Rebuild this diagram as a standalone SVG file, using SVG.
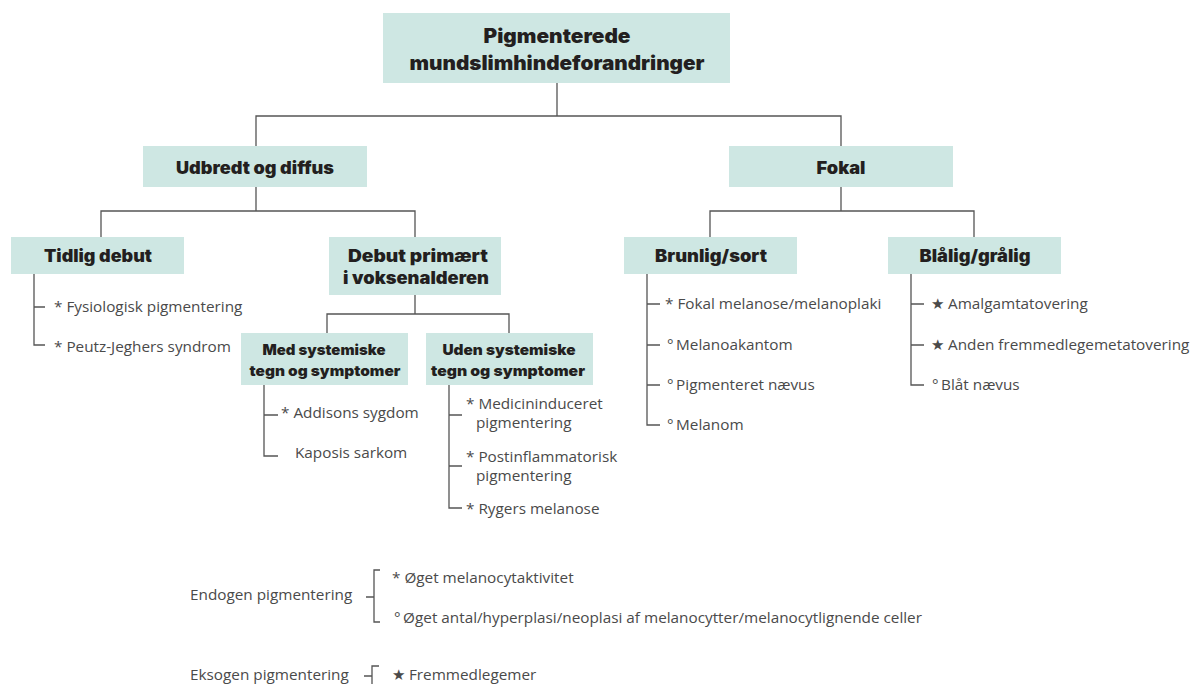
<svg xmlns="http://www.w3.org/2000/svg" width="1190" height="684" viewBox="0 0 1190 684">
<style>
.box{fill:#cee7e3}
.h{font-family:Inter,"Liberation Sans",sans-serif;font-weight:900;fill:#231f20;text-anchor:middle}
.h1{font-size:19.5px}
.h2{font-size:17px}
.h3{font-size:14.5px}
.t{font-family:"Open Sans","Liberation Sans",sans-serif;font-size:15.3px;fill:#4a4a4a}
.ln{fill:none;stroke:#555;stroke-width:1.3}
</style>
<rect width="1190" height="684" fill="#fff"/>
<g id="connectors" class="ln">
<path d="M557 83V116M256 146V116H841V146"/>
<path d="M256 187V211M101 237V211H415V237"/>
<path d="M841 187V211M710 237V211H974V237"/>
<path d="M34 274V345H45M34 307H45"/>
<path d="M415 295V314M327 333V314H509V333"/>
<path d="M264 385V456H278M264 415H278"/>
<path d="M449 385V508H462M449 415H462M449 466H462"/>
<path d="M647 274V425H660M647 304H660M647 345H660M647 385H660"/>
<path d="M911 274V385H924M911 304H924M911 345H924"/>
<path d="M366 597H374M380 570H374V622H380"/>
<path d="M364 676H372M379 666H372V684"/>
</g>
<g id="root"><rect class="box" x="383" y="13" width="347" height="70"/>
<text class="h h1" x="557" y="43" textLength="147" lengthAdjust="spacingAndGlyphs">Pigmenterede</text>
<text class="h h1" x="557" y="70" textLength="295" lengthAdjust="spacingAndGlyphs">mundslimhindeforandringer</text></g>
<g id="udbredt"><rect class="box" x="143" y="146" width="224" height="41"/>
<text class="h h2" x="255" y="174" textLength="158" lengthAdjust="spacingAndGlyphs">Udbredt og diffus</text></g>
<g id="fokal"><rect class="box" x="729" y="146" width="224" height="41"/>
<text class="h h2" x="841" y="174" textLength="49" lengthAdjust="spacingAndGlyphs">Fokal</text></g>
<g id="tidlig"><rect class="box" x="11" y="237" width="173" height="37"/>
<text class="h h2" x="98" y="262" textLength="108" lengthAdjust="spacingAndGlyphs">Tidlig debut</text></g>
<g id="debut"><rect class="box" x="329" y="237" width="172" height="58"/>
<text class="h h2" x="418" y="262" textLength="140" lengthAdjust="spacingAndGlyphs">Debut primært</text>
<text class="h h2" x="416" y="284" textLength="146" lengthAdjust="spacingAndGlyphs">i voksenalderen</text></g>
<g id="brunlig"><rect class="box" x="624" y="237" width="173" height="37"/>
<text class="h h2" x="711" y="262" textLength="112" lengthAdjust="spacingAndGlyphs">Brunlig/sort</text></g>
<g id="blaalig"><rect class="box" x="888" y="237" width="173" height="37"/>
<text class="h h2" x="975" y="262" textLength="111" lengthAdjust="spacingAndGlyphs">Blålig/grålig</text></g>
<g id="med"><rect class="box" x="241" y="333" width="167" height="52"/>
<text class="h h3" x="324" y="355" textLength="123" lengthAdjust="spacingAndGlyphs">Med systemiske</text>
<text class="h h3" x="325" y="376" textLength="151" lengthAdjust="spacingAndGlyphs">tegn og symptomer</text></g>
<g id="uden"><rect class="box" x="426" y="333" width="167" height="52"/>
<text class="h h3" x="509" y="355" textLength="133" lengthAdjust="spacingAndGlyphs">Uden systemiske</text>
<text class="h h3" x="508" y="376" textLength="154" lengthAdjust="spacingAndGlyphs">tegn og symptomer</text></g>
<g id="items">
<text class="t" x="54" y="312">* Fysiologisk pigmentering</text>
<text class="t" x="54" y="352">* Peutz-Jeghers syndrom</text>
<text class="t" x="281" y="418">* Addisons sygdom</text>
<text class="t" x="295" y="458">Kaposis sarkom</text>
<text class="t" x="466" y="409">* Medicininduceret</text>
<text class="t" x="476" y="428">pigmentering</text>
<text class="t" x="466" y="462">* Postinflammatorisk</text>
<text class="t" x="476" y="481">pigmentering</text>
<text class="t" x="466" y="514">* Rygers melanose</text>
<text class="t" x="665" y="309">* Fokal melanose/melanoplaki</text>
<text class="t" x="667" y="350">°&#8201;Melanoakantom</text>
<text class="t" x="667" y="390">°&#8201;Pigmenteret nævus</text>
<text class="t" x="667" y="430">°&#8201;Melanom</text>
<text class="t" x="931" y="309">★ Amalgamtatovering</text>
<text class="t" x="931" y="350">★ Anden fremmedlegemetatovering</text>
<text class="t" x="932" y="390">°&#8201;Blåt nævus</text>
</g>
<g id="legend">
<text class="t" x="190" y="600">Endogen pigmentering</text>
<text class="t" x="392" y="583">* Øget melanocytaktivitet</text>
<text class="t" x="394" y="623">°&#8201;Øget antal/hyperplasi/neoplasi af melanocytter/melanocytlignende celler</text>
<text class="t" x="190" y="680">Eksogen pigmentering</text>
<text class="t" x="392" y="680">★ Fremmedlegemer</text>
</g>
</svg>
